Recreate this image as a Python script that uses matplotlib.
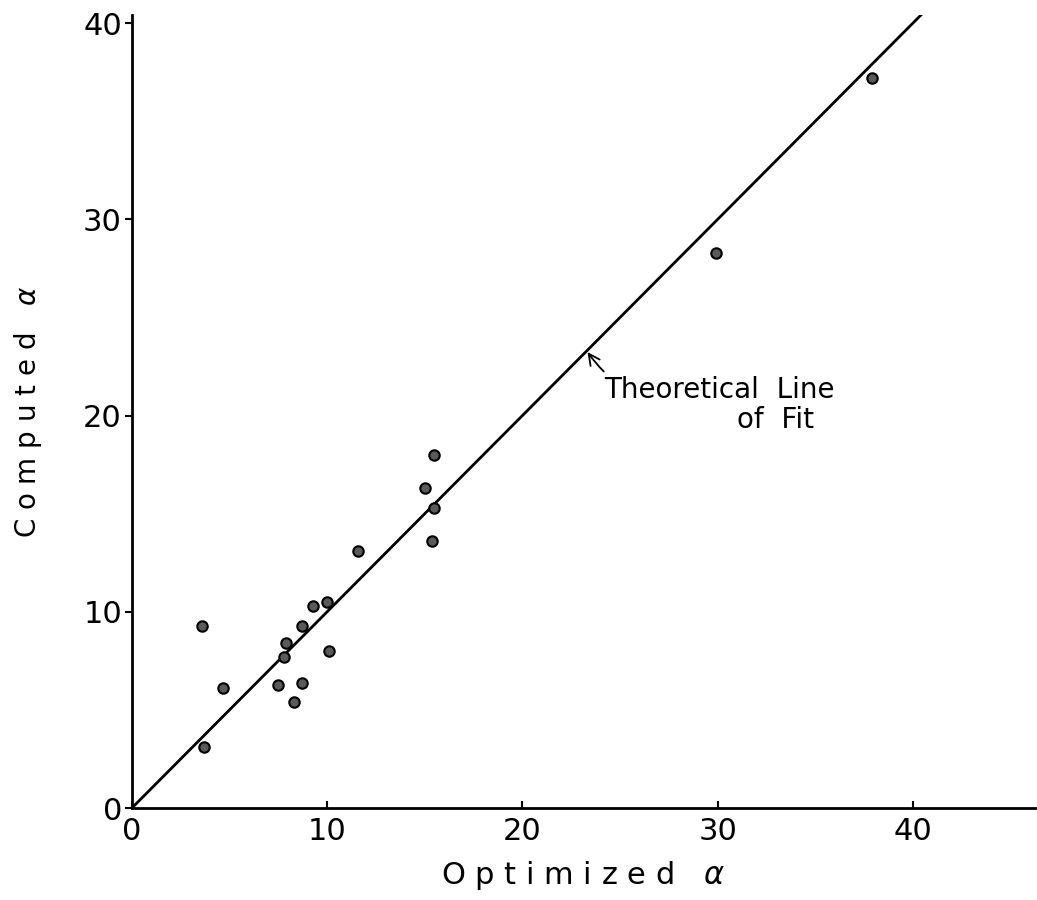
import matplotlib.pyplot as plt

# Optimized alpha vs computed alpha
optimized = [15.5, 15.0, 15.5, 15.4, 11.6, 10.0, 9.3, 3.6, 8.7, 7.9, 7.8, 10.1,
             4.7, 7.5, 8.7, 8.3, 3.7, 37.9, 29.9]
computed = [18.0, 16.3, 15.3, 13.6, 13.1, 10.5, 10.3, 9.3, 9.3, 8.4, 7.7, 8.0,
            6.1, 6.3, 6.4, 5.4, 3.1, 37.2, 28.3]

fit_x = [0, 48]
fit_y = [0, 48]

ticks = [0, 10, 20, 30, 40]

fig = plt.figure(figsize=(10.37, 9), dpi=100)
ax = fig.add_axes([0.127, 0.102, 0.871, 0.881])

ax.plot(fit_x, fit_y, color="black", lw=2)
ax.plot(optimized, computed, "o", ms=7.5, mfc="#5a5a5a", mec="black", mew=1.5)

ax.set_xlim(0, 46.25)
ax.set_ylim(0, 40.4)
ax.set_xticks(ticks)
ax.set_yticks(ticks)
ax.tick_params(axis="x", direction="in", length=5, width=1.5, labelsize=22, pad=6)
ax.tick_params(axis="y", direction="out", length=5, width=1.5, labelsize=22, pad=2)
for s in ["top", "right"]:
    ax.spines[s].set_visible(False)
for s in ["left", "bottom"]:
    ax.spines[s].set_linewidth(2)

ax.set_xlabel("O p t i m i z e d   $\\alpha$", fontsize=22, labelpad=10)
ax.set_ylabel("C o m p u t e d   $\\alpha$", fontsize=20, labelpad=28)

# label with hooked arrow to the line
ax.annotate("Theoretical  Line", xy=(23.3, 23.3), xytext=(24.2, 21.3),
            fontsize=20, ha="left", va="center",
            arrowprops=dict(arrowstyle="->", color="black", lw=1.3,
                            connectionstyle="arc3,rad=-0.4",
                            shrinkA=2, shrinkB=1))
ax.text(31.0, 19.8, "of  Fit", fontsize=20, ha="left", va="center")

fig.savefig("out.png", dpi=100)
